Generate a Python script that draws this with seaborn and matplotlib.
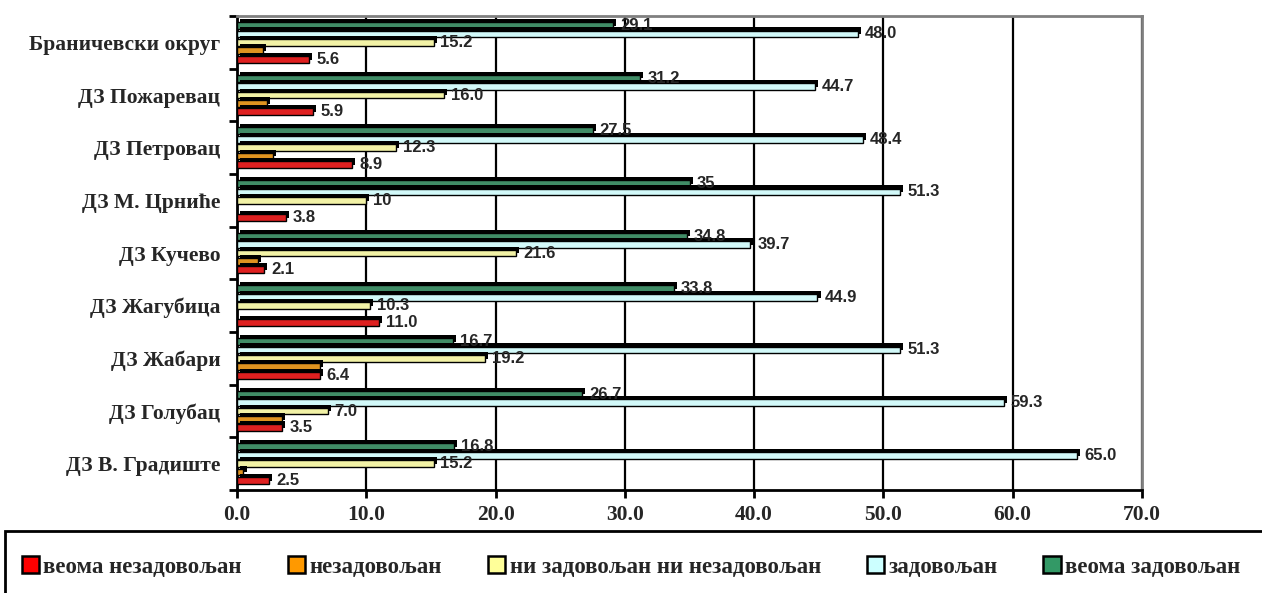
import numpy as np
import pandas as pd
import matplotlib
matplotlib.use("Agg")
import matplotlib.pyplot as plt
import matplotlib.patheffects as pe
from matplotlib.patches import Patch, Rectangle
import seaborn as sns

# data
categories = ["Браничевски округ", "ДЗ Пожаревац", "ДЗ Петровац", "ДЗ М. Црниће",
              "ДЗ Кучево", "ДЗ Жагубица", "ДЗ Жабари", "ДЗ Голубац", "ДЗ В. Градиште"]
series = ["веома незадовољан", "незадовољан", "ни задовољан ни незадовољан",
          "задовољан", "веома задовољан"]
colors = ["#FF0000", "#FF9900", "#FFFF99", "#CCFFFF", "#339966"]

veoma_nezadovoljan = [5.6, 5.9, 8.9, 3.8, 2.1, 11.0, 6.4, 3.5, 2.5]
nezadovoljan = [2.0, 2.3, 2.8, 0, 1.6, 0, 6.4, 3.5, 0.5]
ni_ni = [15.2, 16.0, 12.3, 10, 21.6, 10.3, 19.2, 7.0, 15.2]
zadovoljan = [48.0, 44.7, 48.4, 51.3, 39.7, 44.9, 51.3, 59.3, 65.0]
veoma_zadovoljan = [29.1, 31.2, 27.5, 35, 34.8, 33.8, 16.7, 26.7, 16.8]

x_ticks = [0, 10, 20, 30, 40, 50, 60, 70]

values = dict(zip(series, [veoma_nezadovoljan, nezadovoljan, ni_ni, zadovoljan, veoma_zadovoljan]))

rows = []
for s in series:
    for c, v in zip(categories, values[s]):
        rows.append({"cat": c, "val": v, "series": s})
df = pd.DataFrame(rows)


def fmt(v):
    return str(v) if isinstance(v, int) else f"{v:.1f}"


sns.set_style("white")
fig = plt.figure(figsize=(12.62, 5.93), dpi=100)
ax = fig.add_axes([237 / 1262, 1 - 490 / 593, 905 / 1262, 474 / 593])

sns.barplot(data=df, y="cat", x="val", hue="series", hue_order=series[::-1],
            palette=colors[::-1], orient="h", width=0.8, gap=0.2,
            edgecolor="black", linewidth=1, ax=ax, legend=False)

shadow = [pe.SimplePatchShadow(offset=(2.2, 2.2), shadow_rgbFace="black", alpha=1), pe.Normal()]
for p in ax.patches:
    if p.get_width() == 0:
        p.set_visible(False)
    else:
        p.set_path_effects(shadow)
        p.set_zorder(3)

# data labels (no labels on the orange series)
for cont, s in zip(ax.containers, series[::-1]):
    if s == "незадовољан":
        continue
    ax.bar_label(cont, labels=[fmt(v) for v in values[s]], padding=5,
                 fontsize=12, fontweight="bold", family="Liberation Sans", zorder=4)

ax.set_xlim(0, 70)
ax.set_ylim(8.5, -0.5)
ax.set_xticks(x_ticks)
ax.set_xticklabels([f"{t:.1f}" for t in x_ticks], fontsize=15.5, fontweight="bold",
                   family="Liberation Serif")
ax.set_yticks(range(len(categories)))
ax.set_yticklabels(categories, fontsize=15.5, fontweight="bold", family="Liberation Serif")
ax.set_yticks(np.arange(-0.5, len(categories), 1), minor=True)
ax.tick_params(axis="y", which="major", left=True, length=0, pad=12)
ax.tick_params(axis="y", which="minor", left=True, length=6, width=2,
               direction="out", color="black")
ax.tick_params(axis="x", bottom=True, length=6, width=2, direction="out",
               color="black", pad=5)
ax.set_xlabel("")
ax.set_ylabel("")

ax.set_axisbelow(True)
ax.xaxis.grid(True, color="black", linewidth=1.6)
ax.yaxis.grid(False)
for side in ["left", "bottom"]:
    ax.spines[side].set_color("black")
    ax.spines[side].set_linewidth(2)
for side in ["top", "right"]:
    ax.spines[side].set_color("#808080")
    ax.spines[side].set_linewidth(2)
ax.spines["top"].set_visible(True)
ax.spines["right"].set_visible(True)

# legend box at the bottom
fig.patches.append(Rectangle((5 / 1262, -0.2), 1.1, 0.2 + 1 - 531 / 593,
                             transform=fig.transFigure, fill=False,
                             edgecolor="black", linewidth=2))
handles = [Patch(facecolor=c, edgecolor="black", linewidth=1.8, label=s)
           for s, c in zip(series, colors)]
fig.legend(handles=handles, loc="center", bbox_to_anchor=(631 / 1262, 1 - 567 / 593),
           ncol=5, frameon=False, handlelength=0.75, handleheight=0.75,
           handletextpad=0.2, columnspacing=2.0,
           prop={"family": "Liberation Serif", "weight": "bold", "size": 16.5})

fig.savefig("out.png", dpi=100)
